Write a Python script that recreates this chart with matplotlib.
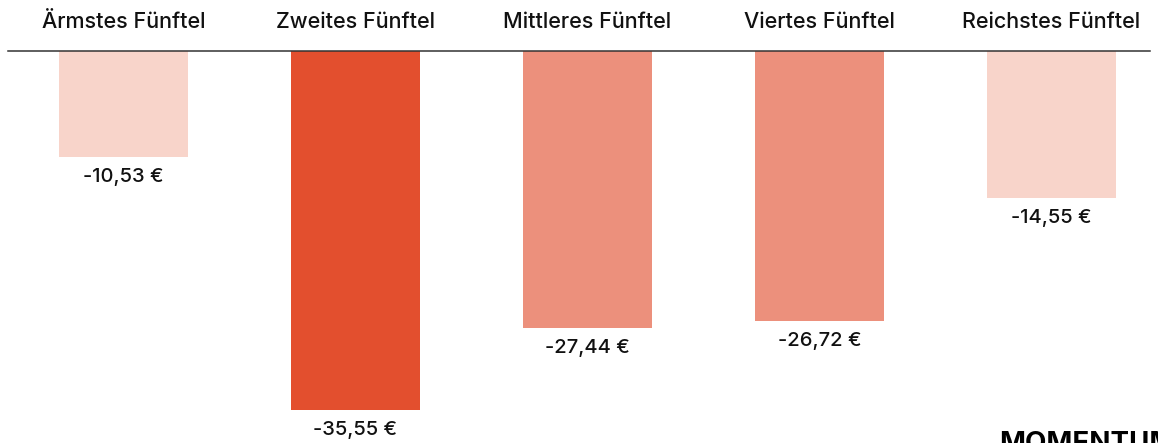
import matplotlib.pyplot as plt

plt.rcParams['font.family'] = ['Inter', 'DejaVu Sans']

categories = ['Ärmstes Fünftel', 'Zweites Fünftel', 'Mittleres Fünftel',
              'Viertes Fünftel', 'Reichstes Fünftel']
values = [-10.53, -35.55, -27.44, -26.72, -14.55]
colors = ['#F8D4CA', '#E34F2E', '#EC907C', '#EC907C', '#F8D4CA']

fig = plt.figure(figsize=(11.58, 4.43), dpi=100)
ax = fig.add_axes([0, 0, 1, 1])

x = range(len(categories))
ax.bar(x, values, width=0.556, color=colors)

for i, (cat, v) in enumerate(zip(categories, values)):
    ax.text(i, 2.9, cat, ha='center', va='center', fontsize=15.5,
            fontweight='medium', color='#111111')
    label = f'{v:.2f}'.replace('.', ',') + ' €'
    ax.text(i, v - 1.1, label, ha='center', va='top', fontsize=14.5,
            fontweight='medium', color='#111111')

ax.axhline(0, xmin=8 / 1158, xmax=1150 / 1158, color='#333333', lw=1.1)

# cut-off logo in the corner
fig.text(0.863, 0.027, 'MOMENTUM', fontsize=20, fontweight='bold', color='black',
         ha='left', va='top')

ax.set_xlim(-0.532, 4.459)
ax.set_ylim(-38.81, 5.05)
ax.axis('off')

fig.savefig('out.png', dpi=100)
